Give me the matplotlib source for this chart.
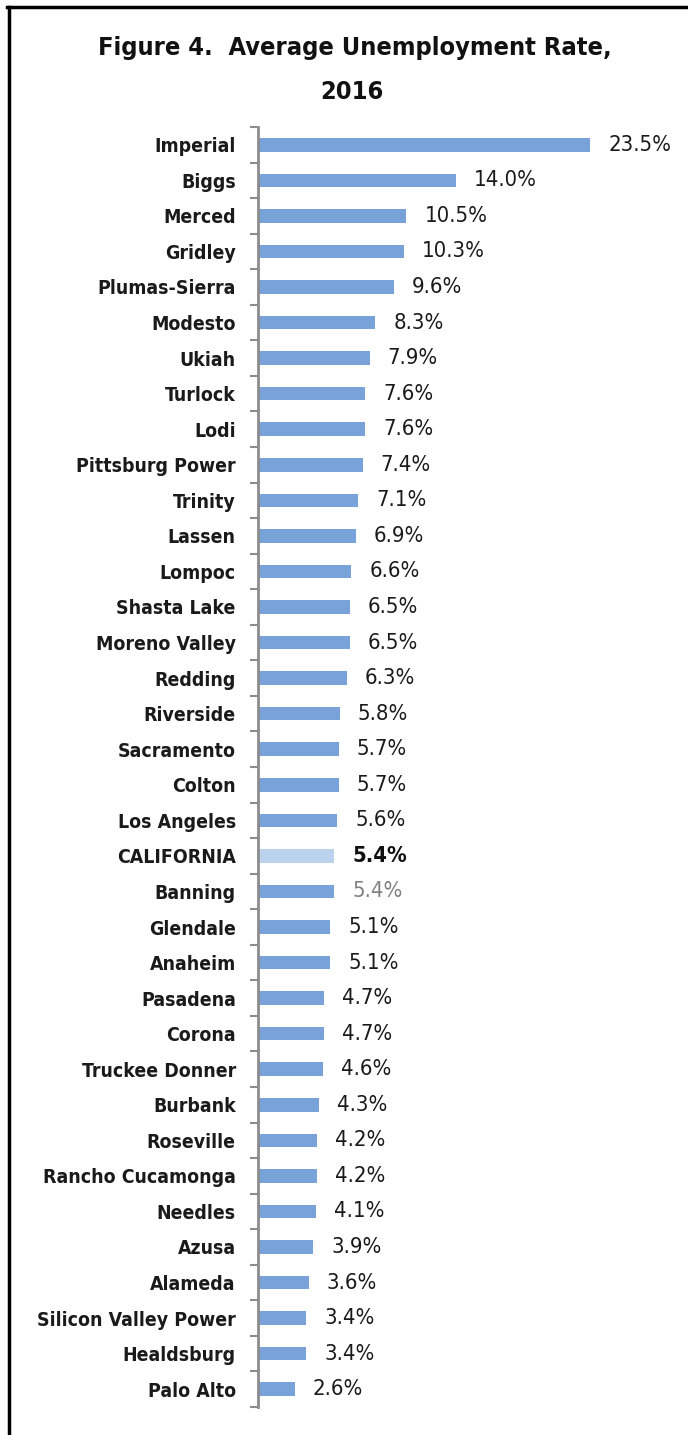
import matplotlib
matplotlib.use("Agg")
import matplotlib.pyplot as plt
from matplotlib import font_manager as fm
from matplotlib.lines import Line2D

categories = ["Imperial", "Biggs", "Merced", "Gridley", "Plumas-Sierra", "Modesto",
              "Ukiah", "Turlock", "Lodi", "Pittsburg Power", "Trinity", "Lassen",
              "Lompoc", "Shasta Lake", "Moreno Valley", "Redding", "Riverside",
              "Sacramento", "Colton", "Los Angeles", "CALIFORNIA", "Banning",
              "Glendale", "Anaheim", "Pasadena", "Corona", "Truckee Donner",
              "Burbank", "Roseville", "Rancho Cucamonga", "Needles", "Azusa",
              "Alameda", "Silicon Valley Power", "Healdsburg", "Palo Alto"]
values = [23.5, 14.0, 10.5, 10.3, 9.6, 8.3, 7.9, 7.6, 7.6, 7.4, 7.1, 6.9,
          6.6, 6.5, 6.5, 6.3, 5.8, 5.7, 5.7, 5.6, 5.4, 5.4, 5.1, 5.1, 4.7,
          4.7, 4.6, 4.3, 4.2, 4.2, 4.1, 3.9, 3.6, 3.4, 3.4, 2.6]
title_line1 = "Figure 4.  Average Unemployment Rate,"
title_line2 = "2016"

# pick a narrow font if one is installed
names = set(f.name for f in fm.fontManager.ttflist)
if "Liberation Sans Narrow" in names:
    BASE = dict(family="Liberation Sans Narrow")
else:
    cond = [f for f in fm.fontManager.ttflist
            if f.name == "DejaVu Sans" and "Condensed" in f.fname]
    if cond:
        BASE = dict(family="DejaVu Sans", stretch="condensed")
    else:
        BASE = dict(family="DejaVu Sans")

W, H = 688, 1435
fig = plt.figure(figsize=(W / 100, H / 100), dpi=100)
renderer = fig.canvas.get_renderer()


def fit_size(text, target_px, weight, start=15.0):
    t = fig.text(0, 0, text, fontsize=start, fontweight=weight, **BASE)
    w = t.get_window_extent(renderer).width
    t.remove()
    return start * target_px / w


lab_fs = min(fit_size("Silicon Valley Power", 199, "bold"), 16.5)
val_fs = min(fit_size("23.5%", 63, "normal"), 16.5)
tit_fs = min(fit_size(title_line1, 514, "bold"), 21)

ax = fig.add_axes([258 / W, 1 - 1407 / H, 424 / W, 1280 / H])

n = len(categories)
ypos = list(range(n))
colors = ["#bcd3ee" if c == "CALIFORNIA" else "#79a3d8" for c in categories]
ax.barh(ypos, values, height=0.38, color=colors, edgecolor="none")
ax.set_xlim(0, 30)
ax.set_ylim(n - 0.5, -0.5)

ax.set_yticks(ypos)
ax.set_yticklabels(categories, fontsize=lab_fs, fontweight="bold", color="#1a1a1a", **BASE)
ax.tick_params(axis="y", length=0, pad=16)
ax.set_yticks([i - 0.5 for i in range(n + 1)], minor=True)
ax.tick_params(axis="y", which="minor", length=6, width=1.5, color="#8c8c8c", direction="out")
ax.set_xticks([])
for s in ["top", "right", "bottom"]:
    ax.spines[s].set_visible(False)
ax.spines["left"].set_color("#8c8c8c")
ax.spines["left"].set_linewidth(2)

for i, (c, v) in enumerate(zip(categories, values)):
    if c == "CALIFORNIA":
        col, wt = "#111111", "bold"
    elif c == "Banning":
        col, wt = "#808080", "normal"
    else:
        col, wt = "#1a1a1a", "normal"
    ax.annotate(f"{v:.1f}%", (v, i), xytext=(18, 0), textcoords="offset pixels",
                ha="left", va="center", fontsize=val_fs, fontweight=wt, color=col, **BASE)

fig.text(355 / W, 1 - 48 / H, title_line1, ha="center", va="center", fontsize=tit_fs,
         fontweight="bold", color="#111111", **BASE)
fig.text(352 / W, 1 - 92 / H, title_line2, ha="center", va="center", fontsize=tit_fs,
         fontweight="bold", color="#111111", **BASE)

fig.add_artist(Line2D([8.5 / W, 8.5 / W], [0, 1 - 7 / H], color="black", lw=2.5,
                      transform=fig.transFigure))
fig.add_artist(Line2D([7 / W, 1], [1 - 7 / H, 1 - 7 / H], color="black", lw=2.5,
                      transform=fig.transFigure))

fig.savefig("out.png", dpi=100)
